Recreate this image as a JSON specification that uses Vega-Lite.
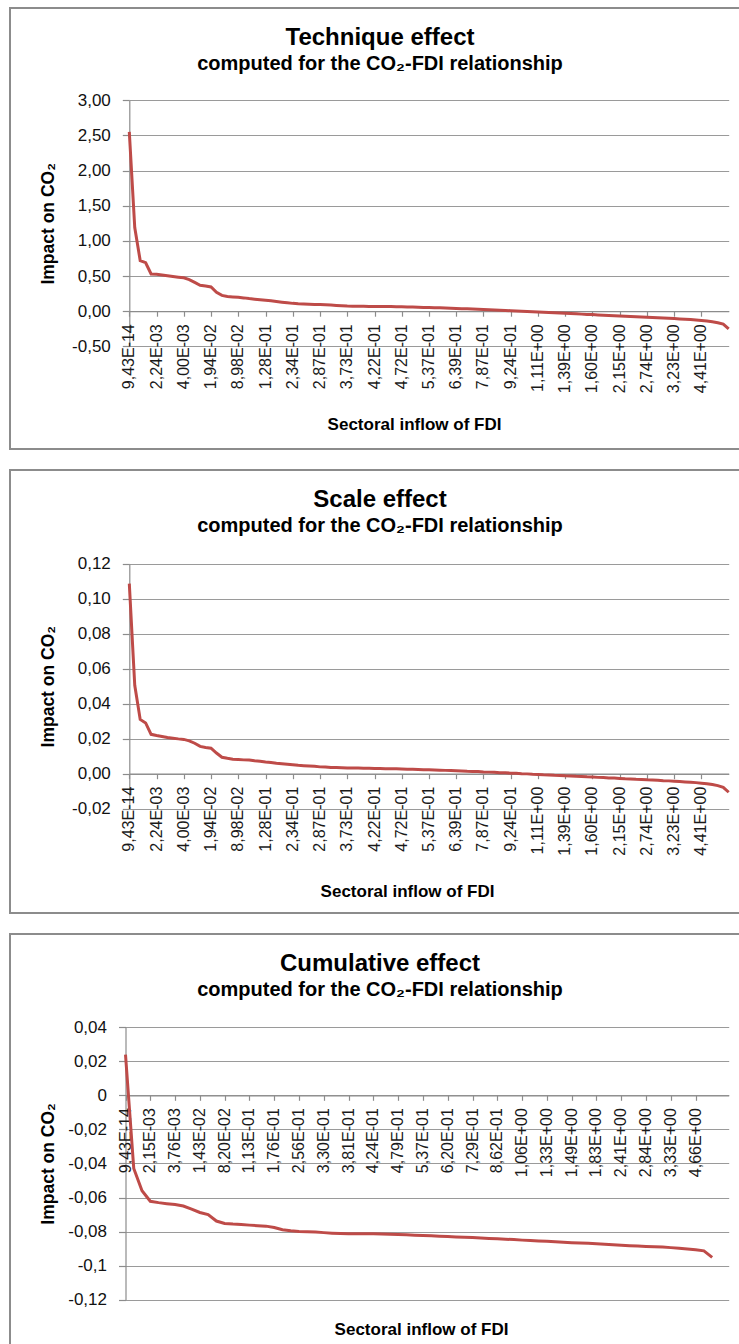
{
  "$schema": "https://vega.github.io/schema/vega-lite/v6.json",
  "padding": {"left": 9, "top": 7, "right": 0, "bottom": 0},
  "background": "white",
  "datasets": {
    "technique": [
      {"i":0,"fdi":"9,43E-14","v":2.55},{"i":1,"v":1.19},{"i":2,"v":0.72},{"i":3,"v":0.69},{"i":4,"v":0.53},
      {"i":5,"fdi":"2,24E-03","v":0.525},{"i":6,"v":0.515},{"i":7,"v":0.505},{"i":8,"v":0.495},{"i":9,"v":0.485},
      {"i":10,"fdi":"4,00E-03","v":0.475},{"i":11,"v":0.45},{"i":12,"v":0.41},{"i":13,"v":0.37},{"i":14,"v":0.36},
      {"i":15,"fdi":"1,94E-02","v":0.345},{"i":16,"v":0.27},{"i":17,"v":0.225},{"i":18,"v":0.21},{"i":19,"v":0.204},
      {"i":20,"fdi":"8,98E-02","v":0.198},{"i":21,"v":0.19},{"i":22,"v":0.18},{"i":23,"v":0.172},{"i":24,"v":0.165},
      {"i":25,"fdi":"1,28E-01","v":0.157},{"i":26,"v":0.148},{"i":27,"v":0.138},{"i":28,"v":0.129},{"i":29,"v":0.12},
      {"i":30,"fdi":"2,34E-01","v":0.112},{"i":31,"v":0.106},{"i":32,"v":0.102},{"i":33,"v":0.099},{"i":34,"v":0.097},
      {"i":35,"fdi":"2,87E-01","v":0.095},{"i":36,"v":0.092},{"i":37,"v":0.088},{"i":38,"v":0.083},{"i":39,"v":0.078},
      {"i":40,"fdi":"3,73E-01","v":0.074},{"i":41,"v":0.072},{"i":42,"v":0.071},{"i":43,"v":0.07},{"i":44,"v":0.069},
      {"i":45,"fdi":"4,22E-01","v":0.068},{"i":46,"v":0.067},{"i":47,"v":0.066},{"i":48,"v":0.066},{"i":49,"v":0.065},
      {"i":50,"fdi":"4,72E-01","v":0.064},{"i":51,"v":0.062},{"i":52,"v":0.06},{"i":53,"v":0.057},{"i":54,"v":0.055},
      {"i":55,"fdi":"5,37E-01","v":0.053},{"i":56,"v":0.05},{"i":57,"v":0.048},{"i":58,"v":0.046},{"i":59,"v":0.043},
      {"i":60,"fdi":"6,39E-01","v":0.04},{"i":61,"v":0.037},{"i":62,"v":0.034},{"i":63,"v":0.031},{"i":64,"v":0.028},
      {"i":65,"fdi":"7,87E-01","v":0.025},{"i":66,"v":0.021},{"i":67,"v":0.018},{"i":68,"v":0.015},{"i":69,"v":0.011},
      {"i":70,"fdi":"9,24E-01","v":0.008},{"i":71,"v":0.004},{"i":72,"v":0.001},{"i":73,"v":-0.003},{"i":74,"v":-0.007},
      {"i":75,"fdi":"1,11E+00","v":-0.011},{"i":76,"v":-0.014},{"i":77,"v":-0.018},{"i":78,"v":-0.022},{"i":79,"v":-0.026},
      {"i":80,"fdi":"1,39E+00","v":-0.029},{"i":81,"v":-0.033},{"i":82,"v":-0.037},{"i":83,"v":-0.041},{"i":84,"v":-0.045},
      {"i":85,"fdi":"1,60E+00","v":-0.048},{"i":86,"v":-0.052},{"i":87,"v":-0.056},{"i":88,"v":-0.06},{"i":89,"v":-0.063},
      {"i":90,"fdi":"2,15E+00","v":-0.067},{"i":91,"v":-0.07},{"i":92,"v":-0.074},{"i":93,"v":-0.078},{"i":94,"v":-0.081},
      {"i":95,"fdi":"2,74E+00","v":-0.085},{"i":96,"v":-0.088},{"i":97,"v":-0.092},{"i":98,"v":-0.096},{"i":99,"v":-0.1},
      {"i":100,"fdi":"3,23E+00","v":-0.104},{"i":101,"v":-0.109},{"i":102,"v":-0.114},{"i":103,"v":-0.119},{"i":104,"v":-0.125},
      {"i":105,"fdi":"4,41E+00","v":-0.131},{"i":106,"v":-0.139},{"i":107,"v":-0.15},{"i":108,"v":-0.163},{"i":109,"v":-0.182},
      {"i":110,"v":-0.25}
    ],
    "scale": [
      {"i":0,"fdi":"9,43E-14","v":0.1086},{"i":1,"v":0.0505},{"i":2,"v":0.031},{"i":3,"v":0.029},{"i":4,"v":0.0225},
      {"i":5,"fdi":"2,24E-03","v":0.0218},{"i":6,"v":0.0213},{"i":7,"v":0.0207},{"i":8,"v":0.0203},{"i":9,"v":0.0199},
      {"i":10,"fdi":"4,00E-03","v":0.0196},{"i":11,"v":0.0188},{"i":12,"v":0.0174},{"i":13,"v":0.0156},{"i":14,"v":0.015},
      {"i":15,"fdi":"1,94E-02","v":0.0146},{"i":16,"v":0.0118},{"i":17,"v":0.0094},{"i":18,"v":0.0088},{"i":19,"v":0.0083},
      {"i":20,"fdi":"8,98E-02","v":0.0081},{"i":21,"v":0.0079},{"i":22,"v":0.0078},{"i":23,"v":0.0074},{"i":24,"v":0.0071},
      {"i":25,"fdi":"1,28E-01","v":0.0067},{"i":26,"v":0.0064},{"i":27,"v":0.006},{"i":28,"v":0.0057},{"i":29,"v":0.0054},
      {"i":30,"fdi":"2,34E-01","v":0.0051},{"i":31,"v":0.0048},{"i":32,"v":0.0046},{"i":33,"v":0.0044},{"i":34,"v":0.0042},
      {"i":35,"fdi":"2,87E-01","v":0.0039},{"i":36,"v":0.0038},{"i":37,"v":0.0036},{"i":38,"v":0.0035},{"i":39,"v":0.0034},
      {"i":40,"fdi":"3,73E-01","v":0.0033},{"i":41,"v":0.0032},{"i":42,"v":0.0032},{"i":43,"v":0.0031},{"i":44,"v":0.0031},
      {"i":45,"fdi":"4,22E-01","v":0.003},{"i":46,"v":0.003},{"i":47,"v":0.0029},{"i":48,"v":0.0029},{"i":49,"v":0.0028},
      {"i":50,"fdi":"4,72E-01","v":0.0027},{"i":51,"v":0.0026},{"i":52,"v":0.0025},{"i":53,"v":0.0024},{"i":54,"v":0.0023},
      {"i":55,"fdi":"5,37E-01","v":0.0022},{"i":56,"v":0.0021},{"i":57,"v":0.002},{"i":58,"v":0.0019},{"i":59,"v":0.0018},
      {"i":60,"fdi":"6,39E-01","v":0.0017},{"i":61,"v":0.0016},{"i":62,"v":0.0014},{"i":63,"v":0.0013},{"i":64,"v":0.0012},
      {"i":65,"fdi":"7,87E-01","v":0.001},{"i":66,"v":0.0009},{"i":67,"v":0.0008},{"i":68,"v":0.0006},{"i":69,"v":0.0005},
      {"i":70,"fdi":"9,24E-01","v":0.0003},{"i":71,"v":0.0002},{"i":72,"v":0.0},{"i":73,"v":-0.0001},{"i":74,"v":-0.0003},
      {"i":75,"fdi":"1,11E+00","v":-0.0004},{"i":76,"v":-0.0006},{"i":77,"v":-0.0007},{"i":78,"v":-0.0009},{"i":79,"v":-0.001},
      {"i":80,"fdi":"1,39E+00","v":-0.0012},{"i":81,"v":-0.0013},{"i":82,"v":-0.0015},{"i":83,"v":-0.0016},{"i":84,"v":-0.0018},
      {"i":85,"fdi":"1,60E+00","v":-0.0019},{"i":86,"v":-0.0021},{"i":87,"v":-0.0022},{"i":88,"v":-0.0024},{"i":89,"v":-0.0025},
      {"i":90,"fdi":"2,15E+00","v":-0.0027},{"i":91,"v":-0.0029},{"i":92,"v":-0.003},{"i":93,"v":-0.0032},{"i":94,"v":-0.0033},
      {"i":95,"fdi":"2,74E+00","v":-0.0035},{"i":96,"v":-0.0036},{"i":97,"v":-0.0038},{"i":98,"v":-0.004},{"i":99,"v":-0.0041},
      {"i":100,"fdi":"3,23E+00","v":-0.0043},{"i":101,"v":-0.0045},{"i":102,"v":-0.0047},{"i":103,"v":-0.0049},{"i":104,"v":-0.0051},
      {"i":105,"fdi":"4,41E+00","v":-0.0054},{"i":106,"v":-0.0057},{"i":107,"v":-0.0062},{"i":108,"v":-0.0068},{"i":109,"v":-0.0078},
      {"i":110,"v":-0.0106}
    ],
    "cumulative": [
      {"i":0,"fdi":"9,43E-14","v":0.0238},{"i":1,"v":-0.043},{"i":2,"v":-0.056},
      {"i":3,"fdi":"2,15E-03","v":-0.0622},{"i":4,"v":-0.063},{"i":5,"v":-0.0636},
      {"i":6,"fdi":"3,76E-03","v":-0.0641},{"i":7,"v":-0.065},{"i":8,"v":-0.0668},
      {"i":9,"fdi":"1,43E-02","v":-0.0688},{"i":10,"v":-0.07},{"i":11,"v":-0.0738},
      {"i":12,"fdi":"8,20E-02","v":-0.0752},{"i":13,"v":-0.0756},{"i":14,"v":-0.0758},
      {"i":15,"fdi":"1,13E-01","v":-0.0762},{"i":16,"v":-0.0765},{"i":17,"v":-0.0768},
      {"i":18,"fdi":"1,76E-01","v":-0.0776},{"i":19,"v":-0.0789},{"i":20,"v":-0.0795},
      {"i":21,"fdi":"2,56E-01","v":-0.0799},{"i":22,"v":-0.0801},{"i":23,"v":-0.0803},
      {"i":24,"fdi":"3,30E-01","v":-0.0806},{"i":25,"v":-0.0809},{"i":26,"v":-0.0811},
      {"i":27,"fdi":"3,81E-01","v":-0.0812},{"i":28,"v":-0.0812},{"i":29,"v":-0.0813},
      {"i":30,"fdi":"4,24E-01","v":-0.0813},{"i":31,"v":-0.0814},{"i":32,"v":-0.0815},
      {"i":33,"fdi":"4,79E-01","v":-0.0817},{"i":34,"v":-0.0819},{"i":35,"v":-0.0821},
      {"i":36,"fdi":"5,37E-01","v":-0.0823},{"i":37,"v":-0.0825},{"i":38,"v":-0.0827},
      {"i":39,"fdi":"6,20E-01","v":-0.0829},{"i":40,"v":-0.0831},{"i":41,"v":-0.0833},
      {"i":42,"fdi":"7,29E-01","v":-0.0835},{"i":43,"v":-0.0838},{"i":44,"v":-0.084},
      {"i":45,"fdi":"8,62E-01","v":-0.0842},{"i":46,"v":-0.0845},{"i":47,"v":-0.0847},
      {"i":48,"fdi":"1,06E+00","v":-0.085},{"i":49,"v":-0.0852},{"i":50,"v":-0.0855},
      {"i":51,"fdi":"1,33E+00","v":-0.0857},{"i":52,"v":-0.086},{"i":53,"v":-0.0862},
      {"i":54,"fdi":"1,49E+00","v":-0.0865},{"i":55,"v":-0.0867},{"i":56,"v":-0.0869},
      {"i":57,"fdi":"1,83E+00","v":-0.0871},{"i":58,"v":-0.0874},{"i":59,"v":-0.0877},
      {"i":60,"fdi":"2,41E+00","v":-0.088},{"i":61,"v":-0.0883},{"i":62,"v":-0.0885},
      {"i":63,"fdi":"2,84E+00","v":-0.0887},{"i":64,"v":-0.0889},{"i":65,"v":-0.0891},
      {"i":66,"fdi":"3,33E+00","v":-0.0894},{"i":67,"v":-0.0897},{"i":68,"v":-0.0902},
      {"i":69,"fdi":"4,66E+00","v":-0.0907},{"i":70,"v":-0.0913},{"i":71,"v":-0.0951}
    ]
  },
  "vconcat": [
    {
      "width": 740, "height": 441,
      "data": {"name": "technique"},
      "title": {"text": "Technique effect", "subtitle": "computed for the CO₂-FDI relationship"},
      "encoding": {
        "x": {"field": "i", "type": "quantitative",
              "scale": {"domain": [0, 110], "range": [119.3, 718.7], "nice": false, "zero": false},
              "axis": {"orient": "bottom", "offset": -137.8, "values": [0,5,10,15,20,25,30,35,40,45,50,55,60,65,70,75,80,85,90,95,100,105],
                       "labels": false, "grid": false, "tickSize": 5, "title": "Sectoral inflow of FDI", "titleX": 404, "titleY": 113, "titleBaseline": "middle"}}
      },
      "layer": [
        {
          "transform": [{"filter": "isValid(datum.fdi)"}],
          "mark": {"type": "text", "angle": 270, "align": "right", "baseline": "middle", "dx": -13, "fontSize": 16, "font": "Liberation Sans", "color": "#1a1a1a"},
          "encoding": {"y": {"datum": 0, "type": "quantitative", "title": "Impact on CO₂"}, "text": {"field": "fdi"}}
        },
        {
          "mark": {"type": "line", "color": "#BE4B48", "strokeWidth": 3, "interpolate": "linear"},
          "encoding": {
            "y": {"field": "v", "type": "quantitative", "title": "Impact on CO₂",
                  "scale": {"domain": [-0.5, 3], "range": [338.4, 92.3], "nice": false, "zero": false},
                  "axis": {"offset": -119.3, "grid": true, "values": [-0.5,0,0.5,1,1.5,2,2.5,3],
                           "labelExpr": "replace(replace(format(datum.value, '.2f'), '.', ','), '\u2212', '-')",
                           "titleX": -80.8, "titleBaseline": "middle"}}
          }
        }
      ]
    },
    {
      "width": 740, "height": 443,
      "data": {"name": "scale"},
      "title": {"text": "Scale effect", "subtitle": "computed for the CO₂-FDI relationship"},
      "encoding": {
        "x": {"field": "i", "type": "quantitative",
              "scale": {"domain": [0, 110], "range": [119.3, 718.7], "nice": false, "zero": false},
              "axis": {"orient": "bottom", "offset": -139.3, "values": [0,5,10,15,20,25,30,35,40,45,50,55,60,65,70,75,80,85,90,95,100,105],
                       "labels": false, "grid": false, "tickSize": 5, "title": "Sectoral inflow of FDI", "titleX": 397, "titleY": 118, "titleBaseline": "middle"}}
      },
      "layer": [
        {
          "transform": [{"filter": "isValid(datum.fdi)"}],
          "mark": {"type": "text", "angle": 270, "align": "right", "baseline": "middle", "dx": -13, "fontSize": 16, "font": "Liberation Sans", "color": "#1a1a1a"},
          "encoding": {"y": {"datum": 0, "type": "quantitative", "title": "Impact on CO₂"}, "text": {"field": "fdi"}}
        },
        {
          "mark": {"type": "line", "color": "#BE4B48", "strokeWidth": 3},
          "encoding": {
            "y": {"field": "v", "type": "quantitative", "title": "Impact on CO₂",
                  "scale": {"domain": [-0.02, 0.12], "range": [338.7, 93.7], "nice": false, "zero": false},
                  "axis": {"offset": -119.3, "grid": true, "values": [-0.02,0,0.02,0.04,0.06,0.08,0.1,0.12],
                           "labelExpr": "replace(replace(format(datum.value, '.2f'), '.', ','), '\u2212', '-')",
                           "titleX": -80.8, "titleBaseline": "middle"}}
          }
        }
      ]
    },
    {
      "width": 740, "height": 420,
      "data": {"name": "cumulative"},
      "title": {"text": "Cumulative effect", "subtitle": "computed for the CO₂-FDI relationship"},
      "encoding": {
        "x": {"field": "i", "type": "quantitative",
              "scale": {"domain": [0, 73], "range": [115.5, 718.7], "nice": false, "zero": false},
              "axis": {"orient": "bottom", "offset": -258.7, "values": [0,3,6,9,12,15,18,21,24,27,30,33,36,39,42,45,48,51,54,57,60,63,66,69],
                       "labels": false, "grid": false, "tickSize": 5, "title": "Sectoral inflow of FDI", "titleX": 411, "titleY": 234, "titleBaseline": "middle"}}
      },
      "layer": [
        {
          "transform": [{"filter": "isValid(datum.fdi)"}],
          "mark": {"type": "text", "angle": 270, "align": "right", "baseline": "middle", "dx": -13, "fontSize": 16, "font": "Liberation Sans", "color": "#1a1a1a"},
          "encoding": {"y": {"datum": 0, "type": "quantitative", "title": "Impact on CO₂"}, "text": {"field": "fdi"}}
        },
        {
          "mark": {"type": "line", "color": "#BE4B48", "strokeWidth": 3},
          "encoding": {
            "y": {"field": "v", "type": "quantitative", "title": "Impact on CO₂",
                  "scale": {"domain": [-0.12, 0.04], "range": [365.8, 93], "nice": false, "zero": false},
                  "axis": {"offset": -115.5, "grid": true, "values": [-0.12,-0.1,-0.08,-0.06,-0.04,-0.02,0,0.02,0.04],
                           "labelExpr": "replace(replace(format(datum.value, '~r'), '.', ','), '\u2212', '-')",
                           "titleX": -77, "titleBaseline": "middle"}}
          }
        }
      ]
    }
  ],
  "config": {
    "font": "Liberation Sans",
    "view": {"stroke": "#8C8C8C", "strokeWidth": 2},
    "concat": {"spacing": 19},
    "axis": {
      "domainColor": "#8C8C8C", "tickColor": "#8C8C8C", "gridColor": "#9A9A9A", "gridWidth": 1.2,
      "labelFont": "Liberation Sans", "labelFontSize": 17, "labelColor": "#111111", "labelPadding": 12,
      "titleFont": "Liberation Sans", "titleFontSize": 17.5, "titleFontWeight": "bold", "titleColor": "#000000",
      "tickSize": 7, "domainWidth": 1.2, "tickWidth": 1.2
    },
    "axisX": {"titleFontSize": 17},
    "title": {
      "anchor": "middle", "frame": "group", "offset": -65.5,
      "font": "Liberation Sans", "fontSize": 24, "fontWeight": "bold", "color": "#000000",
      "subtitleFont": "Liberation Sans", "subtitleFontSize": 20, "subtitleFontWeight": "bold", "subtitleColor": "#000000",
      "subtitlePadding": 4
    }
  }
}
